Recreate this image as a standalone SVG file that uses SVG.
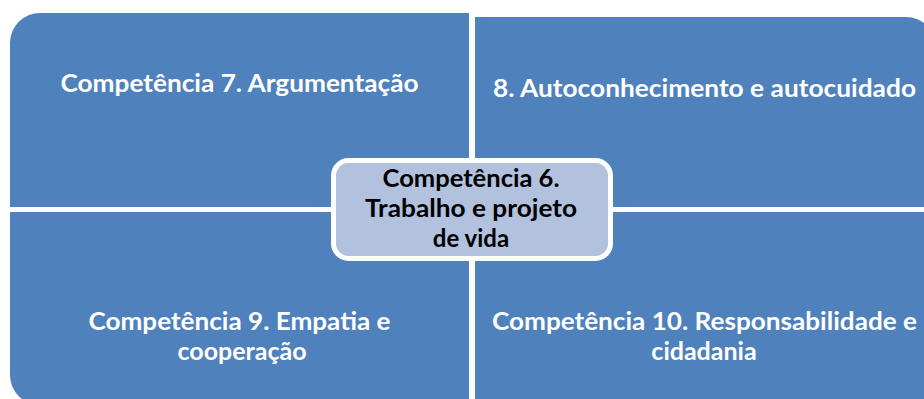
<svg xmlns="http://www.w3.org/2000/svg" width="924" height="399" viewBox="0 0 924 399">
<style>
.q{fill:#4F81BD;}
.c{fill:#B1C1DE;stroke:#FFFFFF;stroke-width:5;}
.t{font-family:Lato,"Open Sans","Liberation Sans",sans-serif;font-weight:bold;font-size:25px;fill:#FFFFFF;text-anchor:middle;}
.tc{font-family:Lato,"Open Sans","Liberation Sans",sans-serif;font-weight:bold;font-size:24px;fill:#000000;text-anchor:middle;}
</style>
<rect width="924" height="399" fill="#FFFFFF"/>
<g id="q7">
<path class="q" d="M10,43 A30,30 0 0 1 40,13 L469,13 L469,207 L10,207 Z"/>
<text class="t" x="239.5" y="92" textLength="358" lengthAdjust="spacingAndGlyphs">Competência 7. Argumentação</text>
</g>
<g id="q8">
<path class="q" d="M475,17 L906,17 A30,30 0 0 1 936,47 L936,207 L475,207 Z"/>
<text class="t" x="704.5" y="97" textLength="423" lengthAdjust="spacingAndGlyphs">8. Autoconhecimento e autocuidado</text>
</g>
<g id="q9">
<path class="q" d="M10,212 L469,212 L469,405 L40,405 A30,30 0 0 1 10,375 Z"/>
<text class="t" x="239.5" y="330" textLength="302" lengthAdjust="spacingAndGlyphs">Competência 9. Empatia e</text>
<text class="t" x="242" y="360">cooperação</text>
</g>
<g id="q10">
<path class="q" d="M475,212 L936,212 L936,410 L475,410 Z"/>
<text class="t" x="704.5" y="330" textLength="425" lengthAdjust="spacingAndGlyphs">Competência 10. Responsabilidade e</text>
<text class="t" x="704" y="360">cidadania</text>
</g>
<g id="c6">
<rect class="c" x="333.5" y="160.5" width="277" height="98" rx="15" ry="15"/>
<text class="tc" x="471" y="187" textLength="177" lengthAdjust="spacingAndGlyphs">Competência 6.</text>
<text class="tc" x="471" y="217" textLength="212" lengthAdjust="spacingAndGlyphs">Trabalho e projeto</text>
<text class="tc" x="471" y="247">de vida</text>
</g>
<g id="connectors"></g>
</svg>
